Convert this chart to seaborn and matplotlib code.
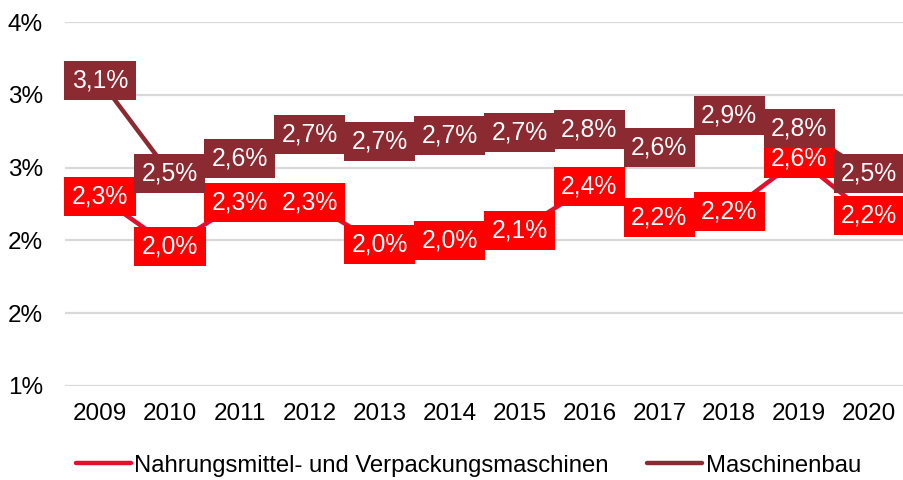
import pandas as pd
import seaborn as sns
import matplotlib.pyplot as plt

# data
years = [2009, 2010, 2011, 2012, 2013, 2014, 2015, 2016, 2017, 2018, 2019, 2020]
nvm = [2.30, 1.96, 2.26, 2.26, 1.97, 2.00, 2.07, 2.37, 2.16, 2.20, 2.56, 2.17]
mb = [3.10, 2.46, 2.56, 2.73, 2.68, 2.72, 2.74, 2.76, 2.64, 2.86, 2.77, 2.46]
series_names = ["Nahrungsmittel- und Verpackungsmaschinen", "Maschinenbau"]
y_ticks = [1.0, 1.5, 2.0, 2.5, 3.0, 3.5]
y_tick_labels = ["1%", "2%", "2%", "3%", "3%", "4%"]

line_colors = ["#E0102E", "#8B2A31"]
box_colors = ["#FF0000", "#8B2A31"]

sns.set_style("white")
plt.rcParams["font.family"] = ["Liberation Sans", "DejaVu Sans"]
plt.rcParams["text.color"] = "black"
plt.rcParams["xtick.color"] = "black"
plt.rcParams["ytick.color"] = "black"

df = pd.DataFrame(
    {
        "Jahr": years * 2,
        "Wert": nvm + mb,
        "Reihe": [series_names[0]] * len(years) + [series_names[1]] * len(years),
    }
)

fig = plt.figure(figsize=(9.04, 4.8), dpi=100)
ax = fig.add_axes([0.072, 0.196, 0.928, 0.758])

sns.lineplot(
    data=df,
    x="Jahr",
    y="Wert",
    hue="Reihe",
    hue_order=series_names,
    palette=line_colors,
    linewidth=3.2,
    ax=ax,
)

# data labels in filled boxes
for i, (vals, col) in enumerate(zip([nvm, mb], box_colors)):
    for x, v in zip(years, vals):
        ax.text(
            x,
            v,
            f"{v:.1f}".replace(".", ",") + "%",
            ha="center",
            va="center",
            color="white",
            fontsize=17.8,
            zorder=5 + i,
            bbox=dict(boxstyle="square,pad=0.3", fc=col, ec="none"),
        )

ax.set_xlim(2008.5, 2020.5)
ax.set_ylim(1.0, 3.5)
ax.set_xticks(years)
ax.set_xticklabels([str(y) for y in years])
ax.set_yticks(y_ticks)
ax.set_yticklabels(y_tick_labels)
ax.tick_params(axis="x", length=0, pad=12, labelsize=17.5)
ax.tick_params(axis="y", length=0, pad=16, labelsize=17.5)
ax.set_xlabel("")
ax.set_ylabel("")
ax.yaxis.grid(True, color="#D9D9D9", linewidth=1.6)
ax.xaxis.grid(False)
ax.set_axisbelow(True)
sns.despine(ax=ax, left=True, bottom=True)

handles, labels = ax.get_legend_handles_labels()
ax.get_legend().remove()
fig.legend(
    handles,
    labels,
    loc="center",
    bbox_to_anchor=(0.518, 0.03),
    ncol=2,
    frameon=False,
    fontsize=17.2,
    handlelength=2.3,
    handletextpad=0.15,
    columnspacing=1.6,
)

fig.savefig("out.png", dpi=100)
